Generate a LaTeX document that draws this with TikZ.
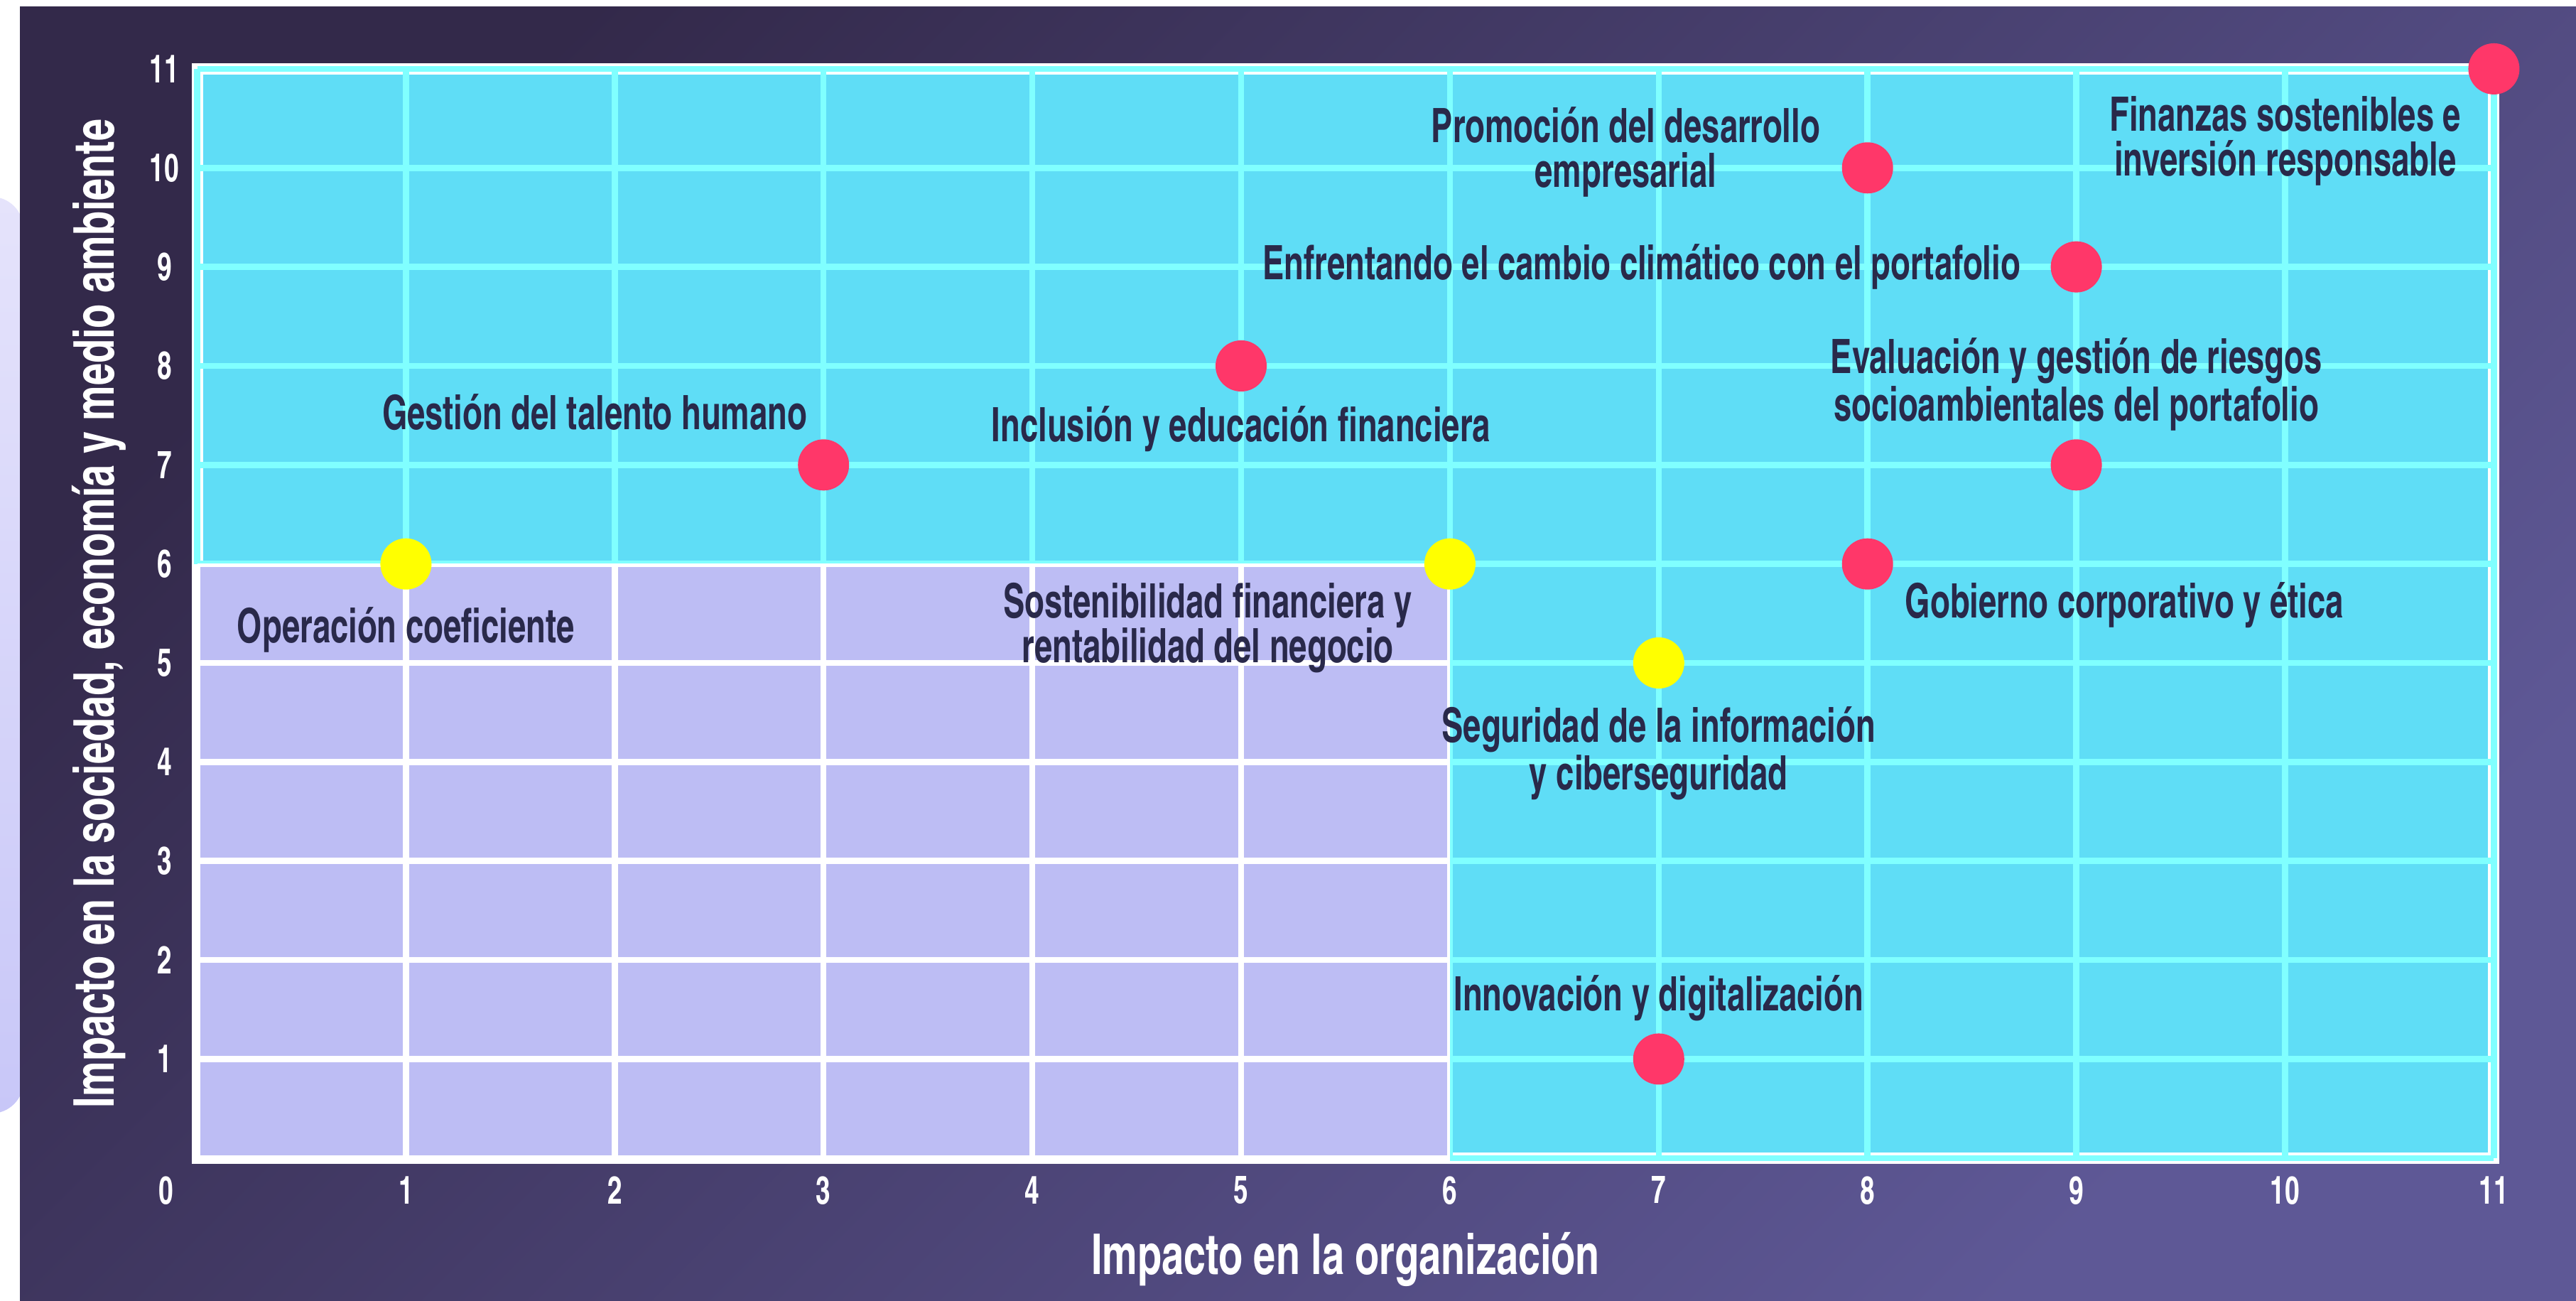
\documentclass[tikz,border=0pt]{standalone}
\usepackage{fontspec}
\setmainfont{TeX Gyre Heros Cn}
\newfontfamily\estrecha{TeX Gyre Heros Cn}[FakeStretch=0.83]
\newfontfamily\titular{TeX Gyre Heros Cn}[FakeStretch=0.86]
\usetikzlibrary{positioning}
\definecolor{fondoA}{HTML}{33294A}
\definecolor{fondoB}{HTML}{5E5896}
\definecolor{celeste}{HTML}{5FDDF6}
\definecolor{rejilla}{HTML}{80FFFF}
\definecolor{lila}{HTML}{BDBDF4}
\definecolor{tinta}{HTML}{29294A}
\definecolor{rojo}{HTML}{FF3769}
\definecolor{amarillo}{HTML}{FFFF00}
\definecolor{lilaclaro}{HTML}{E5E3FB}
\definecolor{lilamedio}{HTML}{C8C7F8}
\tikzset{%
   punto/.style={circle, inner sep=0mm, outer sep=0mm, minimum size=7.2mm},
   puntorojo/.style={punto, fill=rojo},
   puntoamarillo/.style={punto, fill=amarillo},
   tema/.style={font=\estrecha\bfseries\fontsize{19}{18}\selectfont, text=tinta, align=center, inner sep=0pt},
   marca/.style={font=\estrecha\bfseries\fontsize{15.5}{18}\selectfont, text=white, inner sep=0pt},
   titulo/.style={font=\titular\bfseries\fontsize{22.5}{27}\selectfont, text=white, inner sep=0pt},
}

\begin{document}
\begin{tikzpicture}
   \useasboundingbox (0,0) rectangle (36.26,18.31);
   \clip (0,0) rectangle (36.26,18.31);
   \fill[white] (0,0) rectangle (36.26,18.31);
   \shade[top color=lilaclaro, bottom color=lilamedio, rounded corners=0.45cm] (-1,2.64) rectangle (0.33,15.54);
   \shade[top color=fondoA, bottom color=fondoB, shading angle=45] (0.28,0) rectangle (36.26,18.21);
   \begin{scope}[shift={(2.775,2.012)}, x=2.939cm, y=1.3935cm]
      % cuadrantes
      \fill[celeste] (0,0) rectangle (11,11);
      \draw[white, line width=1.6mm] (0,0) rectangle (11,11);
      \draw[rejilla, line width=0.85mm, step=1] (0,0) grid (11,11);
      \fill[lila] (0,0) rectangle (6,6);
      \begin{scope}
         \clip (-0.1,-0.1) rectangle (6,6);
         \draw[white, line width=0.85mm, step=1] (0,0) grid (6,6);
      \end{scope}
      % ejes
      \node[marca, below=0.25cm, xshift=-0.44cm] (ex0) at (0,0) {0};
      \foreach \v in {1,...,11} {
         \node[marca, below=0.25cm] (ex\v) at (\v,0) {\v};
         \node[marca, xshift=-0.46cm] (ey\v) at (0,\v) {\v};
      }
      \node[titulo, rotate=90] (ejey) at (-0.471,5.5) {Impacto en la sociedad, economía y medio ambiente};
      \node[titulo, yshift=-1.43cm] (ejex) at (5.5,0) {Impacto en la organización};
      % temas
      \node[puntoamarillo] (oper) at (1,6) {};
      \node[puntorojo] (talento) at (3,7) {};
      \node[puntorojo] (inclusion) at (5,8) {};
      \node[puntoamarillo] (sosten) at (6,6) {};
      \node[puntoamarillo] (seguridad) at (7,5) {};
      \node[puntorojo] (innova) at (7,1) {};
      \node[puntorojo] (gobierno) at (8,6) {};
      \node[puntorojo] (promo) at (8,10) {};
      \node[puntorojo] (clima) at (9,9) {};
      \node[puntorojo] (riesgos) at (9,7) {};
      \node[puntorojo] (finanzas) at (11,11) {};
      \node[tema, below=0.24cm of oper] (loper) {Operación coeficiente};
      \node[tema, above left=0.22cm and -0.03cm of talento] (ltalento) {Gestión del talento humano};
      \node[tema, below=0.2cm of inclusion] (linclusion) {Inclusión y educación financiera};
      \node[tema, below left=0cm and 0.27cm of sosten] (lsosten) {Sostenibilidad financiera y\\rentabilidad del negocio};
      \node[tema, below=0.25cm of seguridad] (lseguridad) {Seguridad de la información\\y ciberseguridad};
      \node[tema, above=0.17cm of innova] (linnova) {Innovación y digitalización};
      \node[tema, below right=0cm and 0.27cm of gobierno] (lgobierno) {Gobierno corporativo y ética};
      \node[tema, left=0.3cm of promo, yshift=0.22cm] (lpromo) {Promoción del desarrollo\\empresarial};
      \node[tema, left=0.42cm of clima] (lclima) {Enfrentando el cambio climático con el portafolio};
      \node[tema, above=0.11cm of riesgos] (lriesgos) {Evaluación y gestión de riesgos\\socioambientales del portafolio};
      \node[tema, below left=0.12cm and 0.2cm of finanzas] (lfinanzas) {Finanzas sostenibles e\\inversión responsable};
   \end{scope}
\end{tikzpicture}
\end{document}
